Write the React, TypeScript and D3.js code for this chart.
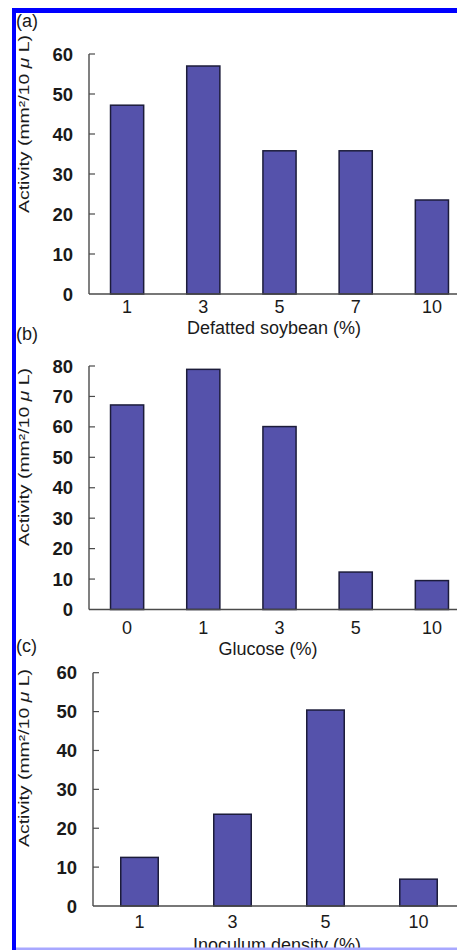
import React from "react";
import * as d3 from "d3";

const soybeanCats = ["1", "3", "5", "7", "10"];
const soybeanVals = [47.2, 57, 35.8, 35.8, 23.5];
const soybeanTicks = [0, 10, 20, 30, 40, 50, 60];

const glucoseCats = ["0", "1", "3", "5", "10"];
const glucoseVals = [67.2, 78.9, 60.1, 12.3, 9.5];
const glucoseTicks = [0, 10, 20, 30, 40, 50, 60, 70, 80];

const inoculumCats = ["1", "3", "5", "10"];
const inoculumVals = [12.5, 23.6, 50.4, 6.9];
const inoculumTicks = [0, 10, 20, 30, 40, 50, 60];

const FONT = "'Liberation Sans', Arial, Helvetica, sans-serif";
const TEXT = "#1a1a1a";
const AXIS = "#4a4a4a";
const BAR_FILL = "#5552ab";
const BAR_STROKE = "#1c1c3a";

type PanelProps = {
  label: string;
  cats: string[];
  vals: number[];
  ticks: number[];
  xTitle: string;
  axisX: number;
  xEnd: number;
  yTop: number;
  yBottom: number;
  padInner: number;
  xLabelY: number;
  xTitleY: number;
  xTitleX: number;
  labelY: number;
  yTitleCenter: number;
};

function Panel(p: PanelProps) {
  const maxV = p.ticks[p.ticks.length - 1];
  const y = d3.scaleLinear().domain([0, maxV]).range([p.yBottom, p.yTop]);
  const x = d3
    .scaleBand<string>()
    .domain(p.cats)
    .range([p.axisX, p.xEnd])
    .paddingInner(p.padInner)
    .paddingOuter(p.padInner / 2);
  return (
    <g>
      <text x={16} y={p.labelY} fontSize={18} fontFamily={FONT} fill={TEXT}>
        {p.label}
      </text>
      <text
        transform={`translate(29,${p.yTitleCenter}) rotate(-90)`}
        textAnchor="middle"
        fontSize={14}
        fontFamily={FONT}
        fill={TEXT}
        textLength={178}
        lengthAdjust="spacingAndGlyphs"
      >
        Activity (mm²/10 <tspan fontStyle="italic">μ</tspan> L)
      </text>
      {p.cats.map((c, i) => (
        <rect
          key={c}
          x={x(c)!}
          y={y(p.vals[i])}
          width={x.bandwidth()}
          height={y(0) - y(p.vals[i])}
          fill={BAR_FILL}
          stroke={BAR_STROKE}
          strokeWidth={1.5}
        />
      ))}
      <line x1={p.axisX} x2={p.axisX} y1={y(maxV)} y2={y(0)} stroke={AXIS} strokeWidth={1.4} />
      <line x1={p.axisX} x2={470} y1={y(0)} y2={y(0)} stroke={AXIS} strokeWidth={1.4} />
      {p.ticks.map((t) => (
        <g key={t}>
          {t > 0 && (
            <line x1={p.axisX} x2={p.axisX + 6} y1={y(t)} y2={y(t)} stroke={AXIS} strokeWidth={1.2} />
          )}
          <text
            x={p.axisX - 16}
            y={y(t) + 6.6}
            textAnchor="end"
            fontSize={18.5}
            fontWeight="bold"
            fontFamily={FONT}
            fill={TEXT}
          >
            {t}
          </text>
        </g>
      ))}
      {p.cats.map((c) => (
        <text
          key={"l" + c}
          x={x(c)! + x.bandwidth() / 2}
          y={p.xLabelY}
          textAnchor="middle"
          fontSize={18}
          fontFamily={FONT}
          fill={TEXT}
        >
          {c}
        </text>
      ))}
      <text x={p.xTitleX} y={p.xTitleY} textAnchor="middle" fontSize={18} fontFamily={FONT} fill={TEXT}>
        {p.xTitle}
      </text>
    </g>
  );
}

export default function App() {
  return (
    <svg
      width={457}
      height={950}
      style={{ position: "absolute", left: 0, top: 0, background: "#fff" }}
    >
      <rect x={0} y={0} width={457} height={950} fill="#fff" />
      <Panel
        label="(a)"
        cats={soybeanCats}
        vals={soybeanVals}
        ticks={soybeanTicks}
        xTitle="Defatted soybean (%)"
        axisX={89}
        xEnd={470}
        yTop={54}
        yBottom={294}
        padInner={0.565}
        xLabelY={313}
        xTitleY={334}
        xTitleX={274}
        labelY={27}
        yTitleCenter={124}
      />
      <Panel
        label="(b)"
        cats={glucoseCats}
        vals={glucoseVals}
        ticks={glucoseTicks}
        xTitle="Glucose (%)"
        axisX={89}
        xEnd={470}
        yTop={366}
        yBottom={609.5}
        padInner={0.565}
        xLabelY={634}
        xTitleY={655}
        xTitleX={268}
        labelY={340}
        yTitleCenter={457}
      />
      <Panel
        label="(c)"
        cats={inoculumCats}
        vals={inoculumVals}
        ticks={inoculumTicks}
        xTitle="Inoculum density (%)"
        axisX={93}
        xEnd={465}
        yTop={672.7}
        yBottom={906}
        padInner={0.597}
        xLabelY={928}
        xTitleY={951}
        xTitleX={277}
        labelY={652}
        yTitleCenter={758}
      />
      <rect x={12} y={8} width={4} height={942} fill="#0000ff" />
      <rect x={12} y={8} width={445} height={5} fill="#0000ff" />
      <rect x={16} y={947.5} width={441} height={2.5} fill="#a8a8ff" />
    </svg>
  );
}
